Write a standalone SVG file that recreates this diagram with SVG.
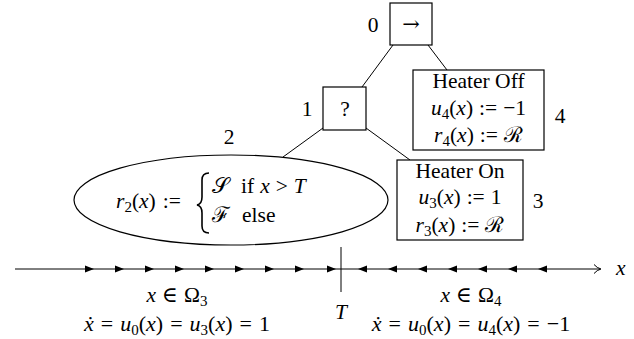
<svg xmlns="http://www.w3.org/2000/svg" width="634" height="339" viewBox="0 0 634 339">
<defs>
<style>
text{font-family:"Liberation Serif","DejaVu Serif",serif;font-size:21.5px;fill:#000}
.i{font-style:italic}
.m{text-anchor:middle}
.s{font-size:15px}
.big{font-size:22px}
.box{fill:#fff;stroke:#000;stroke-width:1.2}
.edge{stroke:#000;stroke-width:1;fill:none}
.ar{fill:#000}
</style>
</defs>
<rect width="634" height="339" fill="#fff"/>
<g id="edges">
<line class="edge" x1="393" y1="45" x2="362" y2="87"/>
<line class="edge" x1="428" y1="45" x2="447" y2="70"/>
<line class="edge" x1="323" y1="128" x2="283" y2="157"/>
<line class="edge" x1="366" y1="128" x2="410" y2="160"/>
</g>
<g id="node0">
<rect class="box" x="390" y="3" width="42" height="42"/>
<text class="m" x="411" y="31" style="font-family:'DejaVu Serif',serif;font-size:21px">→</text>
<text class="m" x="373" y="32">0</text>
</g>
<g id="node1">
<rect class="box" x="323" y="87" width="43" height="43"/>
<text class="m" x="345" y="116">?</text>
<text class="m" x="307" y="116">1</text>
</g>
<g id="node2">
<ellipse cx="231" cy="200" rx="157" ry="45" fill="#fff" stroke="#000" stroke-width="1.2"/>
<text class="m" x="229" y="144">2</text>
<text x="116" y="208"><tspan class="i">r</tspan><tspan class="s" dy="4">2</tspan><tspan dy="-4">(</tspan><tspan class="i">x</tspan>)<tspan dx="7">:=</tspan></text>
<path d="M209,173 Q202,173 202,180 L202,197 Q202,204 197,205 Q202,206 202,213 L202,226 Q202,233 209,233" fill="none" stroke="#000" stroke-width="1.6"/>
<text x="212" y="193">𝒮<tspan dx="12">if</tspan><tspan class="i" dx="6">x</tspan><tspan dx="6">&gt;</tspan><tspan class="i" dx="6">T</tspan></text>
<text x="212" y="222">ℱ<tspan dx="12">else</tspan></text>
</g>
<g id="node4">
<rect class="box" x="413" y="70" width="131" height="80"/>
<text class="m" x="478.5" y="88">Heater Off</text>
<text class="m" x="478.5" y="115"><tspan class="i">u</tspan><tspan class="s" dy="4">4</tspan><tspan dy="-4">(</tspan><tspan class="i">x</tspan>)<tspan dx="6">:=</tspan><tspan dx="6">−1</tspan></text>
<text class="m" x="478.5" y="142"><tspan class="i">r</tspan><tspan class="s" dy="4">4</tspan><tspan dy="-4">(</tspan><tspan class="i">x</tspan>)<tspan dx="6">:=</tspan><tspan dx="6">ℛ</tspan></text>
<text class="m" x="560" y="123">4</text>
</g>
<g id="node3">
<rect class="box" x="397" y="160" width="126" height="80"/>
<text class="m" x="460" y="178">Heater On</text>
<text class="m" x="460" y="204"><tspan class="i">u</tspan><tspan class="s" dy="4">3</tspan><tspan dy="-4">(</tspan><tspan class="i">x</tspan>)<tspan dx="6">:=</tspan><tspan dx="6">1</tspan></text>
<text class="m" x="460" y="232"><tspan class="i">r</tspan><tspan class="s" dy="4">3</tspan><tspan dy="-4">(</tspan><tspan class="i">x</tspan>)<tspan dx="6">:=</tspan><tspan dx="6">ℛ</tspan></text>
<text class="m" x="538" y="208">3</text>
</g>
<g id="axis">
<line x1="15" y1="269" x2="600" y2="269" stroke="#000" stroke-width="1"/>
<path d="M594,264.5 Q597,268 601,269 Q597,270 594,273.5" fill="none" stroke="#000" stroke-width="1"/>
<line x1="341" y1="247" x2="341" y2="292" stroke="#000" stroke-width="1"/>
<g class="ar">
<path d="M94,269 l-9,-3.5 v7z"/><path d="M124,269 l-9,-3.5 v7z"/><path d="M154,269 l-9,-3.5 v7z"/>
<path d="M184,269 l-9,-3.5 v7z"/><path d="M214,269 l-9,-3.5 v7z"/><path d="M244,269 l-9,-3.5 v7z"/>
<path d="M274,269 l-9,-3.5 v7z"/><path d="M304,269 l-9,-3.5 v7z"/><path d="M336,269 l-9,-3.5 v7z"/>
<path d="M358,269 l9,-3.5 v7z"/><path d="M388,269 l9,-3.5 v7z"/><path d="M418,269 l9,-3.5 v7z"/>
<path d="M448,269 l9,-3.5 v7z"/><path d="M478,269 l9,-3.5 v7z"/><path d="M508,269 l9,-3.5 v7z"/>
<path d="M538,269 l9,-3.5 v7z"/>
</g>
<text class="i" x="616" y="275">x</text>
<text class="i m" x="341" y="319">T</text>
<text class="m" x="177" y="302"><tspan class="i">x</tspan><tspan dx="6">∈</tspan><tspan dx="6">Ω</tspan><tspan class="s" dy="4">3</tspan></text>
<text class="m big" x="177" y="331"><tspan class="i">ẋ</tspan><tspan dx="7">=</tspan><tspan class="i" dx="7">u</tspan><tspan class="s" dy="4">0</tspan><tspan dy="-4">(</tspan><tspan class="i">x</tspan>)<tspan dx="7">=</tspan><tspan class="i" dx="7">u</tspan><tspan class="s" dy="4">3</tspan><tspan dy="-4">(</tspan><tspan class="i">x</tspan>)<tspan dx="7">=</tspan><tspan dx="7">1</tspan></text>
<text class="m" x="471" y="302"><tspan class="i">x</tspan><tspan dx="6">∈</tspan><tspan dx="6">Ω</tspan><tspan class="s" dy="4">4</tspan></text>
<text class="m big" x="471" y="331"><tspan class="i">ẋ</tspan><tspan dx="7">=</tspan><tspan class="i" dx="7">u</tspan><tspan class="s" dy="4">0</tspan><tspan dy="-4">(</tspan><tspan class="i">x</tspan>)<tspan dx="7">=</tspan><tspan class="i" dx="7">u</tspan><tspan class="s" dy="4">4</tspan><tspan dy="-4">(</tspan><tspan class="i">x</tspan>)<tspan dx="7">=</tspan><tspan dx="7">−1</tspan></text>
</g>
</svg>
